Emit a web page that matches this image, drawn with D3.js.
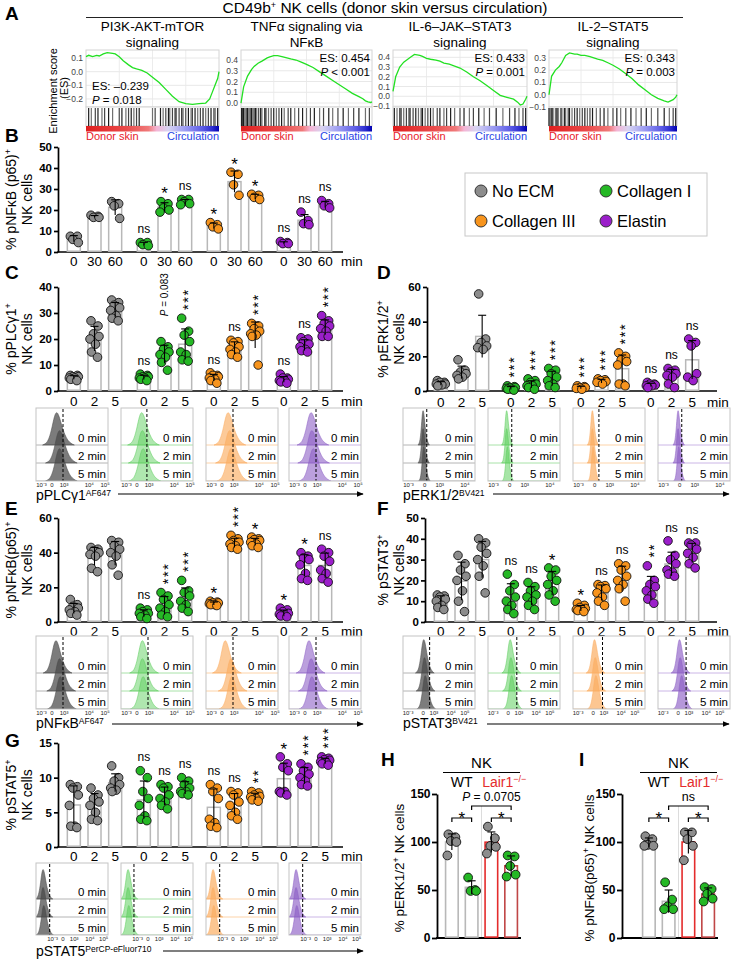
<!DOCTYPE html>
<html><head><meta charset="utf-8">
<script src="https://d3js.org/d3.v7.min.js"></script>
<style>html,body{margin:0;padding:0;background:#fff}</style>
</head><body>
<svg id="fig" width="733" height="961" xmlns="http://www.w3.org/2000/svg"></svg>
<script>
const FONT = "'Liberation Sans', Arial, Helvetica, sans-serif";

// ================= DATA =================
const conditions = ["No ECM", "Collagen I", "Collagen III", "Elastin"];
const condColors = ["#8c8c8c", "#25b825", "#f7941d", "#9b1fca"];
const histFill = ["#4a4a4a", "#5fcf5f", "#fbae62", "#8d60c6"];
const histLine = ["#b4b4b4", "#a8e2a8", "#fdd3a8", "#cbb6e6"];
const timesB = ["0", "30", "60"];
const timesP = ["0", "2", "5"];
const timeLabels = ["0 min", "2 min", "5 min"];

// ---- Panel A (GSEA) ----
const gseaTitles = [["PI3K-AKT-mTOR", "signaling"], ["TNFα signaling via", "NFκB"], ["IL-6–JAK–STAT3", "signaling"], ["IL-2–STAT5", "signaling"]];
const gseaES = ["ES: –0.239", "ES: 0.454", "ES: 0.433", "ES: 0.343"];
const gseaP = [" = 0.018", " < 0.001", " = 0.001", " = 0.003"];
const esTicks = [[-0.2, -0.1, 0, 0.1], [0, 0.1, 0.2, 0.3, 0.4], [-0.1, 0, 0.1, 0.2, 0.3, 0.4], [-0.1, 0, 0.1, 0.2, 0.3]];
const esRank = [0, 0.02, 0.05, 0.08, 0.1, 0.13, 0.16, 0.2, 0.22, 0.25, 0.28, 0.32, 0.35, 0.38, 0.42, 0.46, 0.5, 0.55, 0.6, 0.65, 0.7, 0.75, 0.8, 0.85, 0.9, 0.93, 0.95, 0.97, 0.99, 1];
const esPI3K = [0.11, 0.12, 0.11, 0.12, 0.115, 0.13, 0.14, 0.135, 0.13, 0.11, 0.08, 0.05, 0.03, 0.02, 0.01, -0.01, -0.04, -0.08, -0.13, -0.18, -0.22, -0.235, -0.24, -0.235, -0.23, -0.2, -0.15, -0.1, -0.05, 0.0];
const esTNF = [0.0, 0.15, 0.25, 0.31, 0.34, 0.37, 0.39, 0.42, 0.43, 0.44, 0.44, 0.43, 0.42, 0.41, 0.4, 0.38, 0.36, 0.33, 0.29, 0.25, 0.21, 0.17, 0.13, 0.09, 0.06, 0.04, 0.02, 0.01, 0.005, 0.01];
const esIL6 = [0.05, 0.2, 0.3, 0.35, 0.37, 0.4, 0.43, 0.42, 0.41, 0.39, 0.38, 0.37, 0.36, 0.34, 0.33, 0.31, 0.29, 0.25, 0.2, 0.16, 0.11, 0.06, 0.01, -0.01, -0.03, -0.06, -0.09, -0.08, -0.03, 0.0];
const esIL2 = [0.0, 0.15, 0.2, 0.23, 0.26, 0.32, 0.34, 0.33, 0.33, 0.32, 0.32, 0.31, 0.3, 0.29, 0.28, 0.26, 0.24, 0.21, 0.17, 0.13, 0.08, 0.04, 0.0, -0.03, -0.05, -0.06, -0.05, -0.04, -0.02, 0.0];
const hitsPI3K = [0.02, 0.04, 0.07, 0.09, 0.12, 0.14, 0.17, 0.2, 0.25, 0.27, 0.3, 0.32, 0.34, 0.36, 0.38, 0.4, 0.5, 0.52, 0.56, 0.58, 0.6, 0.62, 0.63, 0.65, 0.67, 0.68, 0.7, 0.72, 0.73, 0.75, 0.77, 0.79, 0.8, 0.82, 0.84, 0.86, 0.88, 0.9, 0.92, 0.94, 0.96, 0.97, 0.99];
const hitsTNF = [0.005, 0.01, 0.015, 0.02, 0.03, 0.04, 0.05, 0.06, 0.07, 0.08, 0.09, 0.1, 0.11, 0.12, 0.135, 0.15, 0.16, 0.18, 0.19, 0.21, 0.23, 0.25, 0.27, 0.29, 0.31, 0.33, 0.36, 0.38, 0.41, 0.44, 0.47, 0.5, 0.53, 0.56, 0.6, 0.63, 0.67, 0.7, 0.74, 0.78, 0.82, 0.86, 0.9, 0.95, 0.98];
const hitsIL6 = [0.01, 0.03, 0.05, 0.06, 0.08, 0.1, 0.12, 0.13, 0.15, 0.17, 0.19, 0.21, 0.22, 0.24, 0.26, 0.28, 0.3, 0.33, 0.35, 0.38, 0.4, 0.43, 0.46, 0.5, 0.53, 0.57, 0.6, 0.64, 0.68, 0.72, 0.77, 0.82, 0.87, 0.91, 0.94, 0.97, 0.99];
const hitsIL2 = [0.0, 0.01, 0.02, 0.03, 0.05, 0.06, 0.07, 0.09, 0.1, 0.12, 0.13, 0.15, 0.16, 0.18, 0.2, 0.22, 0.24, 0.26, 0.28, 0.3, 0.32, 0.34, 0.37, 0.4, 0.43, 0.46, 0.5, 0.53, 0.56, 0.6, 0.64, 0.68, 0.72, 0.76, 0.8, 0.85, 0.9, 0.94, 0.97, 0.99];

// ---- Panel B: % pNFkB(p65)+ NK cells, 0/30/60 min ----
const nfkbB = [
  [[4.5, 6, 7.5, 7.5], [16.5, 17.5, 17, 16.5], [24, 23, 22, 16]],
  [[3, 4.5, 4.5, 3.5], [24, 23, 21, 19, 20], [23, 25, 25, 22.5, 24]],
  [[11, 13, 14, 12], [37, 38, 32, 27], [27, 27.5, 25, 26]],
  [[4, 5, 4.5, 4], [13, 19, 15, 13.5], [24.5, 22, 23, 21]]];
const sigB = [["", "", ""], ["ns", "*", "ns"], ["*", "*", "*"], ["ns", "ns", "ns"]];

// ---- Panel C: % pPLCg1+ ----
const plcC = [
  [[4, 5, 6, 5.5, 4.5, 6, 5, 5.5], [27, 22, 20, 18, 15, 13, 21, 25], [35, 34, 33, 31, 29, 28, 27, 32]],
  [[4, 5, 6, 5.5, 4.5, 6.5, 5, 5.5], [19, 16, 15, 13, 11, 8, 17, 14], [28, 23, 21.5, 15, 14, 12, 11.5, 19]],
  [[3, 4, 5, 6, 7, 5.5, 6, 4.5], [19, 18.5, 17, 16, 15, 14, 13, 19.5], [26, 25, 24, 23, 22, 21, 21.5, 10]],
  [[3, 4, 5, 6.5, 4.5, 3.5, 5, 4], [20, 19, 18, 17, 16, 15, 15.5, 20.5], [29, 27, 26, 25, 24, 23, 21, 21]]];
const sigC = [["", "", ""], ["ns", "P = 0.083", "***"], ["ns", "ns", "***"], ["ns", "ns", "***"]];

// ---- Panel D: % pERK1/2+ ----
const erkD = [
  [[3, 4, 5, 6, 4, 3.5, 5], [18, 12, 10, 9, 8, 7, 11], [56, 30, 28, 25, 24, 26]],
  [[0.5, 1, 1.5, 2, 2.5, 3, 1, 2], [1, 2, 3, 4, 5, 6, 7, 3], [2, 3, 4, 6, 8, 10, 12, 13]],
  [[1, 1.5, 2, 2.5, 3, 2], [4, 5, 6, 7, 6.5, 5.5], [22, 20, 18, 17, 15, 4, 3, 4]],
  [[2, 3, 3.5, 4, 5, 4, 3], [2, 4, 8, 10, 12, 13, 11, 9], [30, 28, 26, 10, 8, 6]]];
const sigD = [["", "", ""], ["***", "***", "***"], ["***", "***", "***"], ["ns", "ns", "ns"]];

// ---- Panel E: % pNFkB(p65)+ ----
const nfkbE = [
  [[13, 10, 9, 8, 7, 6, 5, 4], [43, 42, 41, 40, 39, 38, 31, 29], [47, 46, 44, 42, 40, 38, 33, 27]],
  [[8, 7, 6, 5, 4, 3, 2, 5], [17, 15, 13, 10, 8, 6, 4, 3], [24, 18, 17, 15, 12, 10, 8, 6]],
  [[12, 11.5, 11, 10.5, 10, 9.5, 11, 10], [50, 48, 47, 46, 45, 44, 43, 42], [49, 48, 47.5, 47, 46, 45, 44, 43]],
  [[8, 7, 6, 5, 4, 3, 3.5, 4.5], [40, 38, 37, 36, 33, 28, 25, 24], [42, 40, 38, 35, 30, 28, 25, 23]]];
const sigE = [["", "", ""], ["ns", "***", "***"], ["*", "***", "*"], ["*", "*", "ns"]];

// ---- Panel F: % pSTAT3+ ----
const stat3F = [
  [[13, 12.5, 12, 11, 10, 8, 7, 6], [32, 28, 25, 22, 20, 15, 10, 5], [40, 38, 36, 33, 30, 27, 22, 14]],
  [[23, 18, 15, 12, 10, 8, 6, 4], [19, 17, 15, 13, 12, 10, 8, 6], [26, 25, 22, 20, 18, 15, 13, 10]],
  [[9, 8, 7, 6.5, 6, 5, 5.5, 6], [18, 17.5, 17, 16, 14, 12, 10, 8], [28, 27, 25, 22, 20, 18, 16, 10]],
  [[27, 20, 17, 15, 13, 11, 9, 18], [39, 32, 30, 28, 25, 23, 22, 24], [38, 38, 37, 35, 33, 31, 28, 26]]];
const sigF = [["", "", ""], ["ns", "ns", "*"], ["*", "ns", "ns"], ["**", "ns", "ns"]];

// ---- Panel G: % pSTAT5+ ----
const stat5G = [
  [[9, 8.7, 8.5, 7.5, 3, 2.8, 3, 6], [8.5, 7.5, 7, 6.5, 6, 5, 4, 3.8], [11.7, 10, 9.5, 9, 8.5, 8.2, 8]],
  [[11, 10, 8, 6, 4.5, 4, 3.8, 7], [9, 8.7, 8.5, 7.5, 6.5, 6, 5.5, 7], [10, 9.5, 9, 8.5, 8, 7.7, 7.5, 8]],
  [[9, 8.5, 8, 4, 3.5, 3, 2.8, 7], [8, 7.8, 7.5, 6, 5, 4.5, 4, 6.5], [8, 7.8, 7.5, 7.3, 7, 6.8, 7.2, 6.6]],
  [[13, 12, 11.5, 11, 8, 7.8, 7.5, 8], [12, 11.5, 11, 10.5, 10, 9.5, 9, 8.8], [13, 12.8, 12.5, 12.3, 12, 11.8, 12.6, 12.2]]];
const sigG = [["", "", ""], ["ns", "ns", "ns"], ["ns", "ns", "**"], ["*", "***", "***"]];

// ---- Flow histogram peak locations (fraction of axis) per condition x time ----
const histPeakC = [[0.29, 0.33, 0.33], [0.29, 0.3, 0.31], [0.31, 0.33, 0.35], [0.31, 0.32, 0.34]];
const histPeakD = [[0.28, 0.28, 0.29], [0.26, 0.26, 0.27], [0.27, 0.27, 0.28], [0.28, 0.28, 0.29]];
const histPeakE = [[0.28, 0.33, 0.34], [0.3, 0.3, 0.31], [0.27, 0.35, 0.36], [0.28, 0.31, 0.32]];
const histPeakF = [[0.29, 0.3, 0.31], [0.31, 0.32, 0.33], [0.3, 0.31, 0.32], [0.3, 0.31, 0.33]];
const histPeakG = [[0.1, 0.1, 0.11], [0.1, 0.1, 0.11], [0.1, 0.1, 0.11], [0.1, 0.1, 0.11]];
const histGateC = [0.375, 0.36, 0.375, 0.375];
const histGateD = [0.33, 0.33, 0.36, 0.33];
const histGateE = [0.375, 0.375, 0.375, 0.375];
const histGateF = [0.37, 0.4, 0.41, 0.39];
const histGateG = [0.19, 0.18, 0.19, 0.19];
const histProfile = [0, 0.02, 0.05, 0.1, 0.2, 0.35, 0.55, 0.78, 0.95, 1, 0.92, 0.78, 0.6, 0.45, 0.32, 0.22, 0.14, 0.09, 0.05, 0.02, 0];
const histTickLabels = ["10⁻³", "0", "10³", "10⁴", "10⁵"];

// ---- Panels H / I ----
const nkGroups = ["WT", "WT + Collagen I", "Lair1−/−", "Lair1−/− + Collagen I"];
const perkH = [[108, 105, 101, 100, 86], [63, 50, 49, 49], [116, 104, 96, 95, 88], [86, 85, 75, 66, 64]];
const nfkbI = [[106, 103, 97, 96, 96], [58, 40, 33, 30, 30], [110, 110, 103, 96, 81], [53, 51, 46, 41, 38]];
const nkTicks = [0, 50, 100, 150];

// ================= DRAWING =================
const svg = d3.select("#fig").attr("font-family", FONT);
const defs = svg.append("defs");
const grad = defs.append("linearGradient").attr("id", "rankgrad");
[[0, "#e01e1e"], [0.3, "#ea4a4a"], [0.47, "#f07a7a"], [0.53, "#f4b4d4"], [0.62, "#d8d4f2"], [0.75, "#9a9af2"], [0.88, "#5a5ae6"], [0.95, "#2c2cd0"], [1, "#0000b0"]]
  .forEach(s => grad.append("stop").attr("offset", s[0]).attr("stop-color", s[1]));
const mk = defs.append("marker").attr("id", "arrow").attr("viewBox", "0 0 10 10").attr("refX", 9).attr("refY", 5)
  .attr("markerWidth", 6).attr("markerHeight", 6).attr("orient", "auto");
mk.append("path").attr("d", "M0,1 L10,5 L0,9 Z").attr("fill", "#000");

// Panel letters
[["A", 5, 20], ["B", 5, 142], ["C", 5, 279], ["D", 377, 279], ["E", 5, 515], ["F", 377, 515], ["G", 5, 747], ["H", 381, 766], ["I", 579, 766]]
  .forEach(d => svg.append("text").attr("x", d[1]).attr("y", d[2]).attr("font-size", 19).attr("font-weight", "bold").text(d[0]));

// ---------- Panel A ----------
svg.append("text").attr("x", 385).attr("y", 13).attr("text-anchor", "middle").attr("font-size", 15.5)
  .html("CD49b<tspan baseline-shift='super' font-size='9'>+</tspan> NK cells (donor skin versus circulation)");
svg.append("line").attr("x1", 86).attr("x2", 683).attr("y1", 17.5).attr("y2", 17.5).attr("stroke", "#222").attr("stroke-width", 1);
svg.append("text").attr("transform", "translate(57,91) rotate(-90)").attr("text-anchor", "middle").attr("font-size", 11).text("Enrichment score");
svg.append("text").attr("transform", "translate(68,88) rotate(-90)").attr("text-anchor", "middle").attr("font-size", 11).text("(ES)");

const gseaLayout = [
  { x0: 86, x1: 219, dom: [-0.259, 0.159], statX: 92, anchor: "start", statY: [90, 103.5] },
  { x0: 241, x1: 372, dom: [-0.037, 0.493], statX: 370, anchor: "end", statY: [62, 75.5] },
  { x0: 393, x1: 527, dom: [-0.11, 0.475], statX: 525, anchor: "end", statY: [62, 75.5] },
  { x0: 549, x1: 677, dom: [-0.1, 0.364], statX: 675, anchor: "end", statY: [62, 75.5] }];
const esAll = [esPI3K, esTNF, esIL6, esIL2];
const hitsAll = [hitsPI3K, hitsTNF, hitsIL6, hitsIL2];
gseaLayout.forEach((L, k) => {
  const g = svg.append("g");
  const x = d3.scaleLinear().domain([0, 1]).range([L.x0, L.x1]);
  const y = d3.scaleLinear().domain(L.dom).range([107, 50]);
  const cxm = (L.x0 + L.x1) / 2;
  g.append("text").attr("x", cxm).attr("y", 31).attr("text-anchor", "middle").attr("font-size", 13.5).text(gseaTitles[k][0]);
  g.append("text").attr("x", cxm).attr("y", 47).attr("text-anchor", "middle").attr("font-size", 13.5).text(gseaTitles[k][1]);
  [0.25, 0.5, 0.75].forEach(v => g.append("line").attr("x1", x(v)).attr("x2", x(v)).attr("y1", 50).attr("y2", 107).attr("stroke", "#ececec"));
  esTicks[k].forEach(t => {
    g.append("line").attr("x1", L.x0).attr("x2", L.x1).attr("y1", y(t)).attr("y2", y(t)).attr("stroke", "#e8e8e8");
    g.append("text").attr("x", L.x0 - 3).attr("y", y(t) + 3).attr("text-anchor", "end").attr("font-size", 8.5).attr("fill", "#444")
      .text(d3.format(".1f")(t));
  });
  g.append("rect").attr("x", L.x0).attr("y", 50).attr("width", L.x1 - L.x0).attr("height", 57).attr("fill", "none").attr("stroke", "#d4d4d4");
  const line = d3.line().x((d, i) => x(esRank[i])).y(d => y(d));
  g.append("path").attr("d", line(esAll[k])).attr("fill", "none").attr("stroke", "#22e022").attr("stroke-width", 1.3);
  g.append("text").attr("x", L.statX).attr("y", L.statY[0]).attr("text-anchor", L.anchor).attr("font-size", 11.5).text(gseaES[k]);
  g.append("text").attr("x", L.statX).attr("y", L.statY[1]).attr("text-anchor", L.anchor).attr("font-size", 11.5)
    .html("<tspan font-style='italic'>P</tspan>" + gseaP[k]);
  g.append("rect").attr("x", L.x0).attr("y", 107).attr("width", L.x1 - L.x0).attr("height", 19).attr("fill", "#fff").attr("stroke", "#d4d4d4");
  hitsAll[k].forEach((h, i) => g.append("line").attr("x1", x(h)).attr("x2", x(h)).attr("y1", 108).attr("y2", 126)
    .attr("stroke", "#111").attr("stroke-opacity", i % 3 === 0 ? 0.95 : (i % 3 === 1 ? 0.6 : 0.78)).attr("stroke-width", 1.2));
  g.append("rect").attr("x", L.x0).attr("y", 126).attr("width", L.x1 - L.x0).attr("height", 5.5).attr("fill", "url(#rankgrad)");
  g.append("text").attr("x", L.x0).attr("y", 140).attr("font-size", 11).attr("fill", "#e8202a").text("Donor skin");
  g.append("text").attr("x", L.x1).attr("y", 140).attr("text-anchor", "end").attr("font-size", 11).attr("fill", "#2845e6").text("Circulation");
});

// ---------- Legend ----------
svg.append("rect").attr("x", 465).attr("y", 173).attr("width", 242).attr("height", 63).attr("fill", "#fff").attr("stroke", "#c8c8c8");
[[481, 191], [606, 191], [481, 221], [606, 221]].forEach((p, i) => {
  svg.append("circle").attr("cx", p[0]).attr("cy", p[1]).attr("r", 6).attr("fill", condColors[i]).attr("stroke", "#333").attr("stroke-width", 1);
  svg.append("text").attr("x", p[0] + 11).attr("y", p[1] + 6).attr("font-size", 16.5).text(conditions[i]);
});

// ---------- Dot/bar panels ----------
const jitter = [-3.5, 3.5, -1, 4.5, -4.5, 1, -3, 3, 0];
function sigMark(g, x, top, s) {
  if (!s) return;
  if (s === "ns") {
    g.append("text").attr("x", x).attr("y", top).attr("text-anchor", "middle").attr("font-size", 12).text("ns");
  } else if (s.startsWith("P")) {
    g.append("text").attr("transform", `translate(${x + 3},${top - 16}) rotate(-90)`).attr("font-size", 10)
      .html("<tspan font-style='italic'>P</tspan>" + s.slice(1));
  } else if (s.length === 1) {
    g.append("text").attr("x", x).attr("y", top + 7).attr("text-anchor", "middle").attr("font-size", 17).text("*");
  } else {
    g.append("text").attr("transform", `translate(${x + 8.3},${top + 1}) rotate(-90)`).attr("font-size", 14.5)
      .attr("letter-spacing", 1.6).text(s);
  }
}
function dotPanel(o) {
  const g = svg.append("g");
  const y = d3.scaleLinear().domain(o.yDomain).range(o.yRange);
  const gx = d3.scaleBand().domain(conditions).range([o.x0, o.x0 + 280]);
  const tx = d3.scaleBand().domain(o.times).range([0, 62]);
  const cx = (ci, ti) => gx(conditions[ci]) + tx(o.times[ti]) + tx.bandwidth() / 2;
  const ax = g.append("g").attr("transform", `translate(${o.axisX},0)`)
    .call(d3.axisLeft(y).tickValues(o.yTicks).tickSize(4).tickSizeOuter(0).tickPadding(2).tickFormat(d3.format("d")));
  ax.select(".domain").attr("stroke-width", 1.7);
  ax.selectAll(".tick line").attr("stroke-width", 1.7);
  ax.selectAll("text").attr("font-size", 11.5).attr("font-weight", "bold").attr("font-family", FONT).attr("fill", "#000");
  g.append("line").attr("x1", o.axisX - 0.8).attr("x2", o.axisEnd).attr("y1", y(0)).attr("y2", y(0)).attr("stroke", "#000").attr("stroke-width", 1.7);
  o.data.forEach((cond, ci) => cond.forEach((pts, ti) => {
    const m = d3.mean(pts), sd = d3.deviation(pts);
    const x = cx(ci, ti);
    g.append("rect").attr("x", x - 6.5).attr("y", y(m)).attr("width", 13).attr("height", y(0) - y(m) - 0.8)
      .attr("fill", "#fff").attr("stroke", "#b8b8b8").attr("stroke-width", 1.5);
    const sorted = pts.slice().sort((a, b) => b - a);
    sorted.forEach((v, i) => g.append("circle").attr("cx", x + jitter[i % jitter.length]).attr("cy", y(v)).attr("r", 4.3)
      .attr("fill", condColors[ci]).attr("stroke", "#111").attr("stroke-width", 0.9));
    const lo = Math.max(o.yDomain[0], m - sd), hi = m + sd;
    g.append("line").attr("x1", x).attr("x2", x).attr("y1", y(lo)).attr("y2", y(hi)).attr("stroke", "#000").attr("stroke-width", 1.1);
    g.append("line").attr("x1", x - 4).attr("x2", x + 4).attr("y1", y(hi)).attr("y2", y(hi)).attr("stroke", "#000").attr("stroke-width", 1.1);
    const top = Math.min(y(d3.max(pts)) - 4.3, y(hi)) - 5;
    sigMark(g, x, top, o.sig[ci][ti]);
    g.append("text").attr("x", x).attr("y", o.xLabelY).attr("text-anchor", "middle").attr("font-size", 13.5).text(o.times[ti]);
  }));
  g.append("text").attr("x", o.minX).attr("y", o.xLabelY).attr("text-anchor", "middle").attr("font-size", 13.5).text("min");
  const yc = (o.yRange[0] + o.yRange[1]) / 2;
  g.append("text").attr("transform", `translate(${o.ylabX[0]},${yc}) rotate(-90)`).attr("text-anchor", "middle").attr("font-size", 14).html(o.ylab);
  g.append("text").attr("transform", `translate(${o.ylabX[1]},${yc}) rotate(-90)`).attr("text-anchor", "middle").attr("font-size", 14).text("NK cells");
}
const sup = s => `<tspan baseline-shift='super' font-size='9'>${s}</tspan>`;
dotPanel({ data: nfkbB, sig: sigB, times: timesB, x0: 63.5, axisX: 58, axisEnd: 343, yDomain: [0, 50], yRange: [252, 147], yTicks: [0, 10, 20, 30, 40, 50], xLabelY: 266, minX: 352, ylab: "% pNFκB (p65)" + sup("+"), ylabX: [16, 32] });
dotPanel({ data: plcC, sig: sigC, times: timesP, x0: 63.5, axisX: 58, axisEnd: 343, yDomain: [0, 40], yRange: [391, 287], yTicks: [0, 10, 20, 30, 40], xLabelY: 406, minX: 352, ylab: "% pPLCγ1" + sup("+"), ylabX: [16, 32] });
dotPanel({ data: erkD, sig: sigD, times: timesP, x0: 430.5, axisX: 427, axisEnd: 717, yDomain: [0, 60], yRange: [391, 287], yTicks: [0, 20, 40, 60], xLabelY: 407, minX: 718, ylab: "% pERK1/2" + sup("+"), ylabX: [388, 404] });
dotPanel({ data: nfkbE, sig: sigE, times: timesP, x0: 63.5, axisX: 58, axisEnd: 343, yDomain: [0, 60], yRange: [622, 518], yTicks: [0, 20, 40, 60], xLabelY: 636, minX: 352, ylab: "% pNFκB(p65)" + sup("+"), ylabX: [16, 32] });
dotPanel({ data: stat3F, sig: sigF, times: timesP, x0: 430.5, axisX: 425, axisEnd: 717, yDomain: [0, 50], yRange: [622, 518], yTicks: [0, 10, 20, 30, 40, 50], xLabelY: 636, minX: 718, ylab: "% pSTAT3" + sup("+"), ylabX: [388, 404] });
dotPanel({ data: stat5G, sig: sigG, times: timesP, x0: 63.5, axisX: 58, axisEnd: 343, yDomain: [0, 15], yRange: [847, 743], yTicks: [0, 5, 10, 15], xLabelY: 861, minX: 352, ylab: "% pSTAT5" + sup("+"), ylabX: [16, 32] });

// ---------- Histogram panels ----------
let clipId = 0;
function histPanel(o) {
  const bw = 72;
  o.boxX.forEach((bx, ci) => {
    const g = svg.append("g");
    const xs = d3.scaleLinear().domain([0, 1]).range([bx, bx + bw]);
    const id = "clip" + (clipId++);
    defs.append("clipPath").attr("id", id).append("rect").attr("x", bx).attr("y", o.top).attr("width", bw).attr("height", o.base[2] - o.top);
    const cg = g.append("g").attr("clip-path", `url(#${id})`);
    o.base.forEach(b => cg.append("line").attr("x1", bx).attr("x2", bx + bw).attr("y1", b).attr("y2", b).attr("stroke", histLine[ci]).attr("stroke-width", 1));
    o.base.forEach((b, ti) => {
      const c = o.peaks[ci][ti];
      const pts = histProfile.map((v, i) => [xs(c + o.w * (i - 9) / 5), b - v * o.h]);
      const area = d3.area().x(d => d[0]).y0(b).y1(d => d[1]).curve(d3.curveBasis);
      cg.append("path").attr("d", area(pts)).attr("fill", histFill[ci]).attr("fill-opacity", o.op[ci])
        .attr("stroke", histFill[ci]).attr("stroke-opacity", 0.9).attr("stroke-width", 0.6);
    });
    g.append("line").attr("x1", xs(o.gate[ci])).attr("x2", xs(o.gate[ci])).attr("y1", o.top + 1).attr("y2", o.base[2])
      .attr("stroke", "#000").attr("stroke-width", 1).attr("stroke-dasharray", "3,2");
    g.append("rect").attr("x", bx).attr("y", o.top).attr("width", bw).attr("height", o.base[2] - o.top).attr("fill", "none").attr("stroke", "#c4c4c4").attr("stroke-width", 1);
    o.base.forEach((b, ti) => g.append("text").attr("x", bx + bw - 2).attr("y", b - 3.5).attr("text-anchor", "end").attr("font-size", 11.5).text(timeLabels[ti]));
    o.tickPos.forEach((p, i) => g.append("text").attr("x", xs(p)).attr("y", o.base[2] + 6).attr("text-anchor", "middle").attr("font-size", 6).attr("fill", "#222").text(histTickLabels[i]));
  });
  svg.append("text").attr("x", o.boxX[0]).attr("y", o.labelY).attr("font-size", 14)
    .html(o.label + `<tspan baseline-shift='4' font-size='8.5'>${o.labelSup}</tspan>`);
  svg.append("line").attr("x1", o.arrow[0]).attr("x2", o.arrow[1]).attr("y1", o.arrow[2]).attr("y2", o.arrow[2])
    .attr("stroke", "#000").attr("stroke-width", 1.2).attr("marker-end", "url(#arrow)");
}
const leftBoxes = [36, 121, 206, 289], rightBoxes = [403, 488, 573, 658];
histPanel({ boxX: leftBoxes, top: 408, base: [445, 463, 481], peaks: histPeakC, gate: histGateC, w: 0.11, h: 33, op: [0.72, 0.5, 0.65, 0.6],
  tickPos: [0.076, 0.22, 0.39, 0.74, 0.96], label: "pPLCγ1", labelSup: "AF647", labelY: 500, arrow: [118, 363, 494] });
histPanel({ boxX: rightBoxes, top: 408, base: [445, 463, 481], peaks: histPeakD, gate: histGateD, w: 0.04, h: 35, op: [0.72, 0.55, 0.7, 0.65],
  tickPos: [0.076, 0.3, 0.51, 0.86], label: "pERK1/2", labelSup: "BV421", labelY: 500, arrow: [493, 729, 494] });
histPanel({ boxX: leftBoxes, top: 636, base: [673, 691, 709], peaks: histPeakE, gate: histGateE, w: 0.1, h: 33, op: [0.72, 0.5, 0.65, 0.6],
  tickPos: [0.076, 0.22, 0.39, 0.74, 0.96], label: "pNFκB", labelSup: "AF647", labelY: 728, arrow: [112, 363, 724] });
histPanel({ boxX: rightBoxes, top: 636, base: [673, 691, 709], peaks: histPeakF, gate: histGateF, w: 0.065, h: 34, op: [0.72, 0.55, 0.7, 0.65],
  tickPos: [0.07, 0.28, 0.43, 0.67, 0.86], label: "pSTAT3", labelSup: "BV421", labelY: 728, arrow: [487, 729, 724] });
histPanel({ boxX: leftBoxes, top: 863, base: [899, 917, 935], peaks: histPeakG, gate: histGateG, w: 0.06, h: 30, op: [0.72, 0.55, 0.7, 0.65],
  tickPos: [0.23, 0.375, 0.53, 0.75, 0.94], label: "pSTAT5", labelSup: "PerCP-eFluor710", labelY: 956, arrow: [163, 363, 951] });

// ---------- Panels H / I ----------
const nkBarStroke = ["#b8b8b8", "#b8b8b8", "#e42c2c", "#c04646"];
const nkPointColor = [condColors[0], condColors[1], condColors[0], condColors[1]];
function nkPanel(o) {
  const g = svg.append("g");
  const y = d3.scaleLinear().domain([0, 150]).range([938, 794]);
  const x = d3.scaleBand().domain(nkGroups).range([o.x0, o.x0 + 79]);
  const cx = i => x(nkGroups[i]) + x.bandwidth() / 2;
  g.append("line").attr("x1", o.divX).attr("x2", o.divX).attr("y1", 806).attr("y2", 938).attr("stroke", "#dcdcdc").attr("stroke-width", 1);
  const ax = g.append("g").attr("transform", `translate(${o.axisX},0)`)
    .call(d3.axisLeft(y).tickValues(nkTicks).tickSize(5).tickSizeOuter(0).tickPadding(1.5));
  ax.select(".domain").attr("stroke-width", 1.8);
  ax.selectAll(".tick line").attr("stroke-width", 1.8);
  ax.selectAll("text").attr("font-size", 12).attr("font-weight", "bold").attr("font-family", FONT).attr("fill", "#000");
  g.append("line").attr("x1", o.axisX - 0.9).attr("x2", o.x0 + 79).attr("y1", 938).attr("y2", 938).attr("stroke", "#000").attr("stroke-width", 1.8);
  o.data.forEach((pts, i) => {
    const m = d3.mean(pts), sd = d3.deviation(pts), xc = cx(i);
    g.append("rect").attr("x", xc - 6.3).attr("y", y(m)).attr("width", 12.6).attr("height", y(0) - y(m) - 0.9)
      .attr("fill", "#fff").attr("stroke", nkBarStroke[i]).attr("stroke-width", 1.6);
    pts.slice().sort((a, b) => b - a).forEach((v, j) => g.append("circle").attr("cx", xc + jitter[j]).attr("cy", y(v)).attr("r", 4.4)
      .attr("fill", nkPointColor[i]).attr("stroke", "#111").attr("stroke-width", 0.9));
    g.append("line").attr("x1", xc).attr("x2", xc).attr("y1", y(m - sd)).attr("y2", y(m + sd)).attr("stroke", "#000").attr("stroke-width", 1.1);
    g.append("line").attr("x1", xc - 4).attr("x2", xc + 4).attr("y1", y(m + sd)).attr("y2", y(m + sd)).attr("stroke", "#000").attr("stroke-width", 1.1);
  });
  const bracket = (a, b, yy, label, italicP) => {
    g.append("path").attr("d", `M${cx(a)},${yy + 4} V${yy} H${cx(b)} V${yy + 4}`).attr("fill", "none").attr("stroke", "#000").attr("stroke-width", 1.2);
    const t = g.append("text").attr("x", (cx(a) + cx(b)) / 2).attr("text-anchor", "middle");
    if (label === "*") t.attr("y", yy + 6).attr("font-size", 17).text("*");
    else if (italicP) t.attr("y", yy - 5).attr("font-size", 12).html("<tspan font-style='italic'>P</tspan>" + label.slice(1));
    else t.attr("y", yy - 5).attr("font-size", 12.5).text(label);
  };
  bracket(0, 1, 818, "*");
  bracket(2, 3, 818, "*");
  bracket(1, 3, 806, o.topLabel, o.topLabel.startsWith("P"));
  const mid = (cx(0) + cx(3)) / 2;
  g.append("text").attr("x", mid).attr("y", 768).attr("text-anchor", "middle").attr("font-size", 15).text("NK");
  g.append("line").attr("x1", o.x0 + 1).attr("x2", o.x0 + 78).attr("y1", 772.5).attr("y2", 772.5).attr("stroke", "#000").attr("stroke-width", 1);
  g.append("text").attr("x", (cx(0) + cx(1)) / 2).attr("y", 787).attr("text-anchor", "middle").attr("font-size", 14).text("WT");
  g.append("text").attr("x", (cx(2) + cx(3)) / 2 + 3).attr("y", 787).attr("text-anchor", "middle").attr("font-size", 14).attr("fill", "#e42c2c")
    .html("Lair1<tspan baseline-shift='super' font-size='9'>−/−</tspan>");
  g.append("text").attr("transform", `translate(${o.ylabX},868) rotate(-90)`).attr("text-anchor", "middle").attr("font-size", 13.5).html(o.ylab);
}
nkPanel({ data: perkH, x0: 442, axisX: 437, divX: 481.5, topLabel: "P = 0.0705", ylabX: 404, ylab: "% pERK1/2" + sup("+") + " NK cells" });
nkPanel({ data: nfkbI, x0: 639, axisX: 622, divX: 678.5, topLabel: "ns", ylabX: 594, ylab: "% pNFκB(p65)" + sup("+") + " NK cells" });
</script>
</body></html>
